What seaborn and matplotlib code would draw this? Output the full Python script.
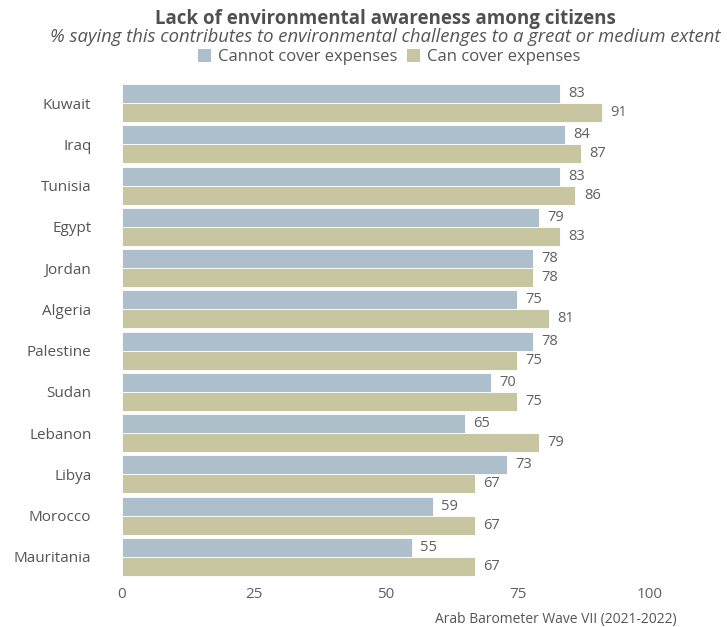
import matplotlib
matplotlib.use("Agg")
import matplotlib.pyplot as plt
import seaborn as sns
import pandas as pd
from matplotlib.patches import Patch

countries = ["Kuwait", "Iraq", "Tunisia", "Egypt", "Jordan", "Algeria", "Palestine",
             "Sudan", "Lebanon", "Libya", "Morocco", "Mauritania"]
cannot_cover = [83, 84, 83, 79, 78, 75, 78, 70, 65, 73, 59, 55]
can_cover = [91, 87, 86, 83, 78, 81, 75, 75, 79, 67, 67, 67]
series_names = ["Cannot cover expenses", "Can cover expenses"]
colors = ["#aebfcc", "#c8c5a1"]
x_ticks = [0, 25, 50, 75, 100]

df = pd.DataFrame({
    "country": countries * 2,
    "value": cannot_cover + can_cover,
    "group": [series_names[0]] * len(countries) + [series_names[1]] * len(countries),
})

sns.set_theme(style="white")
plt.rcParams["font.family"] = ["Open Sans", "DejaVu Sans"]

fig = plt.figure(figsize=(7.27, 6.27), dpi=100)
ax = fig.add_axes([122 / 727, 1 - 577.6 / 627, (702 - 122) / 727, (577.6 - 82.4) / 627])

sns.barplot(data=df, y="country", x="value", hue="group", order=countries,
            hue_order=series_names, palette=colors, orient="h", width=0.92,
            edgecolor="white", linewidth=0.6, ax=ax, legend=False, saturation=1)

for cont in ax.containers:
    ax.bar_label(cont, fmt="%d", padding=6, fontsize=10.5, color="#606060")

ax.set_xlim(0, 110)
ax.set_ylim(len(countries) - 0.5, -0.5)
ax.set_xticks(x_ticks)
ax.set_xticklabels([str(t) for t in x_ticks], fontsize=11, color="#606060")
ax.tick_params(axis="y", labelsize=11, labelcolor="#555555", length=0, pad=22)
ax.tick_params(axis="x", length=0, pad=7)
ax.set_xlabel("")
ax.set_ylabel("")
for s in ax.spines.values():
    s.set_visible(False)

fig.text(0.53, 1 - 19 / 627, "Lack of environmental awareness among citizens",
         ha="center", va="center", fontsize=13.5, fontweight="bold", color="#505050")
fig.text(385 / 727, 1 - 37 / 627,
         "% saying this contributes to environmental challenges to a great or medium extent",
         ha="center", va="center", fontsize=13.3, style="italic", color="#555555")

handles = [Patch(facecolor=c, edgecolor="none") for c in colors]
fig.legend(handles, series_names, loc="center", bbox_to_anchor=(0.535, 1 - 57 / 627),
           ncol=2, frameon=False, fontsize=12, handlelength=0.8, handleheight=0.8,
           handletextpad=0.4, columnspacing=0.6, labelcolor="#555555")

fig.text(677 / 727, 1 - 619 / 627, "Arab Barometer Wave VII (2021-2022)",
         ha="right", va="center", fontsize=10, color="#555555")

fig.savefig("out.png", dpi=100)
